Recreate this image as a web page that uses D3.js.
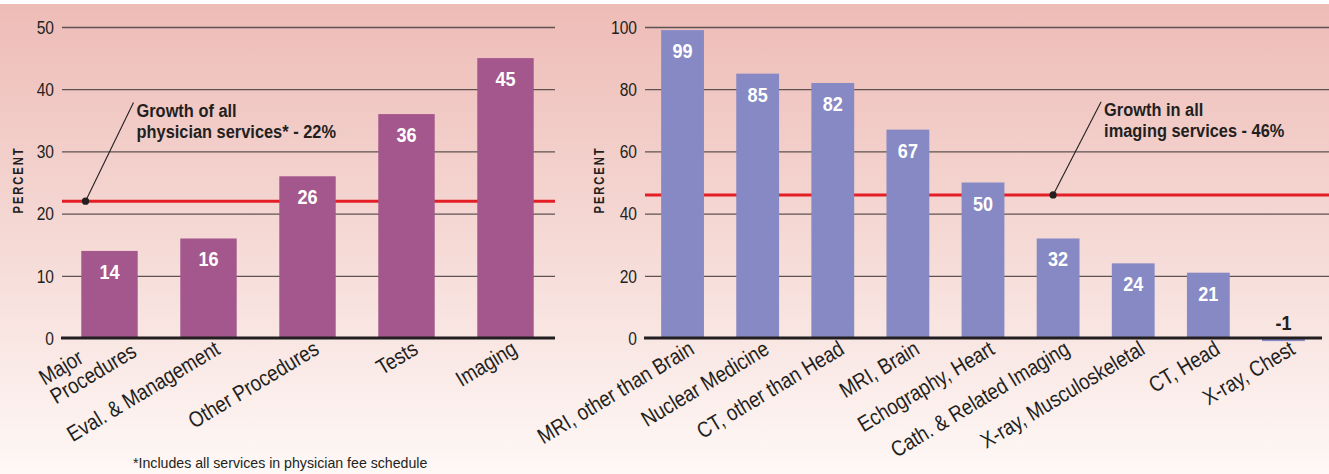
<!DOCTYPE html>
<html><head><meta charset="utf-8">
<script src="https://cdn.jsdelivr.net/npm/d3@7/dist/d3.min.js"></script>
<style>
html,body{margin:0;padding:0;background:#fff;}
svg{display:block;}
</style></head>
<body>
<svg id="chart" width="1329" height="474"></svg>
<script>
// ---------- DATA ----------
const leftCategories = [["Major","Procedures"],["Eval. & Management"],["Other Procedures"],["Tests"],["Imaging"]];
const leftValues = [14, 16, 26, 36, 45];
const leftTicks = [0, 10, 20, 30, 40, 50];
const leftReference = 22;
const leftNote = ["Growth of all", "physician services* - 22%"];

const rightCategories = ["MRI, other than Brain","Nuclear Medicine","CT, other than Head","MRI, Brain","Echography, Heart","Cath. & Related Imaging","X-ray, Musculoskeletal","CT, Head","X-ray, Chest"];
const rightValues = [99, 85, 82, 67, 50, 32, 24, 21, -1];
const rightTicks = [0, 20, 40, 60, 80, 100];
const rightReference = 46;
const rightNote = ["Growth in all", "imaging services - 46%"];

const axisTitle = "PERCENT";
const footnote = "*Includes all services in physician fee schedule";

// ---------- STYLE ----------
const FONT = "'Liberation Sans',Arial,sans-serif";
const SX = 0.82; // horizontal condensing factor
const INK = "#231f20";
const svg = d3.select("#chart");
const W = 1329, H = 474;

const defs = svg.append("defs");
const grad = defs.append("linearGradient").attr("id","bg").attr("x1",0).attr("y1",0).attr("x2",0).attr("y2",1);
grad.append("stop").attr("offset","0%").attr("stop-color","#eebcb7");
grad.append("stop").attr("offset","50%").attr("stop-color","#f5d9d5");
grad.append("stop").attr("offset","100%").attr("stop-color","#fef8f6");
svg.append("rect").attr("x",0).attr("y",4).attr("width",W).attr("height",H-4).attr("fill","url(#bg)");

function place(x, y, rot, sx){
  return `translate(${x},${y})` + (rot ? ` rotate(${rot})` : "") + ` scale(${sx},1)`;
}

function panel(cfg){
  const g = svg.append("g");
  const x = d3.scaleBand().domain(d3.range(cfg.values.length)).range(cfg.xRange)
    .paddingInner(cfg.pad).paddingOuter(cfg.pad/2);
  const top = cfg.ticks[cfg.ticks.length-1];
  const y = d3.scaleLinear().domain([0, top]).range([338, 27]);
  const cx = i => x(i) + x.bandwidth()/2;

  // gridlines via axis
  const ax = d3.axisLeft(y).tickValues(cfg.ticks.filter(t=>t!==0)).tickSize(-(cfg.gridEnd - cfg.gridStart)).tickFormat("");
  const grid = g.append("g").attr("transform",`translate(${cfg.gridStart},0)`).call(ax);
  grid.select(".domain").remove();
  grid.selectAll("line").attr("stroke","#5e5252").attr("stroke-width",1.3);

  // tick labels
  g.append("g").selectAll("text").data(cfg.ticks).join("text")
    .attr("transform", d=>place(cfg.gridStart - 8, y(d), 0, SX)).attr("dy","0.36em")
    .attr("text-anchor","end").attr("font-family",FONT).attr("font-size",19).attr("fill",INK)
    .text(d=>d);

  // axis title
  g.append("text").attr("transform",place(cfg.titleX, 180, -90, 0.8))
    .attr("text-anchor","middle").attr("dy","0.36em")
    .attr("font-family",FONT).attr("font-weight","bold").attr("font-size",14)
    .attr("letter-spacing","2.4px").attr("fill",INK).text(axisTitle);

  // reference line
  g.append("line").attr("x1",cfg.gridStart).attr("x2",cfg.refEnd).attr("y1",y(cfg.ref)).attr("y2",y(cfg.ref))
    .attr("stroke","#e31e26").attr("stroke-width",3);

  // bars
  g.append("g").selectAll("rect").data(cfg.values).join("rect")
    .attr("x",(d,i)=>x(i)).attr("width",x.bandwidth())
    .attr("y",d=>y(Math.max(0,d))).attr("height",d=>Math.abs(y(d)-y(0)))
    .attr("fill",cfg.color);

  // zero line
  g.append("line").attr("x1",cfg.gridStart-1).attr("x2",cfg.zeroEnd).attr("y1",y(0)).attr("y2",y(0))
    .attr("stroke",INK).attr("stroke-width",2.8);

  // value labels
  g.append("g").selectAll("text").data(cfg.values).join("text")
    .attr("transform",(d,i)=>place(cx(i), d>=0 ? y(d)+28 : y(0)-8, 0, 0.86))
    .attr("text-anchor","middle").attr("font-family",FONT).attr("font-weight","bold").attr("font-size",21)
    .attr("fill",d=> d>=0 ? "#ffffff" : INK)
    .text(d=>d);

  // category labels
  const LSX = 0.85;
  g.append("g").selectAll("text").data(cfg.cats).join("text")
    .attr("transform",(d,i)=>place(cx(i)+13, 353, -31, LSX))
    .attr("font-family",FONT).attr("font-size",22).attr("fill",INK)
    .each(function(d){
      const t = d3.select(this);
      const lines = Array.isArray(d) ? d : [d];
      if(lines.length === 1){
        t.attr("text-anchor","end").text(lines[0]);
      } else {
        t.attr("text-anchor","start");
        const sp = lines.map((s,k)=> t.append("tspan").attr("y", -12 + k*22).text(s));
        const lastLen = sp[sp.length-1].node().getComputedTextLength();
        const startX = 12/LSX - lastLen;
        sp.forEach(s=>s.attr("x", startX));
      }
    });

  // annotation
  const dx = cfg.dotX(x), dy = y(cfg.ref);
  const tx = dx + cfg.noteDX, ty = y(cfg.noteY);
  g.append("line").attr("x1",dx).attr("y1",dy).attr("x2",tx-3).attr("y2",ty-14)
    .attr("stroke",INK).attr("stroke-width",1.1);
  g.append("circle").attr("cx",dx).attr("cy",dy).attr("r",3.6).attr("fill",INK);
  cfg.note.forEach((s,k)=> g.append("text").attr("transform",place(tx, ty + k*21, 0, 0.886))
    .attr("font-family",FONT).attr("font-weight","bold").attr("font-size",18.5).attr("fill",INK).text(s));
}

panel({values:leftValues, cats:leftCategories, ticks:leftTicks, ref:leftReference, note:leftNote,
  xRange:[60,555], pad:0.43, gridStart:62, gridEnd:555, refEnd:555, zeroEnd:555, titleX:18,
  color:"#a4578d", dotX:x=>x(0)+x.bandwidth()/2-24, noteDX:51, noteY:35.6});

panel({values:rightValues, cats:rightCategories, ticks:rightTicks, ref:rightReference, note:rightNote,
  xRange:[645,1321], pad:0.43, gridStart:645, gridEnd:1329, refEnd:1329, zeroEnd:1322, titleX:599,
  color:"#8689c4", dotX:x=>x(5)+x.bandwidth()/2-5, noteDX:51, noteY:71.5});

svg.append("text").attr("transform",place(133, 468, 0, 0.945))
  .attr("font-family",FONT).attr("font-size",15).attr("fill",INK)
  .text(footnote);
</script>
</body></html>
